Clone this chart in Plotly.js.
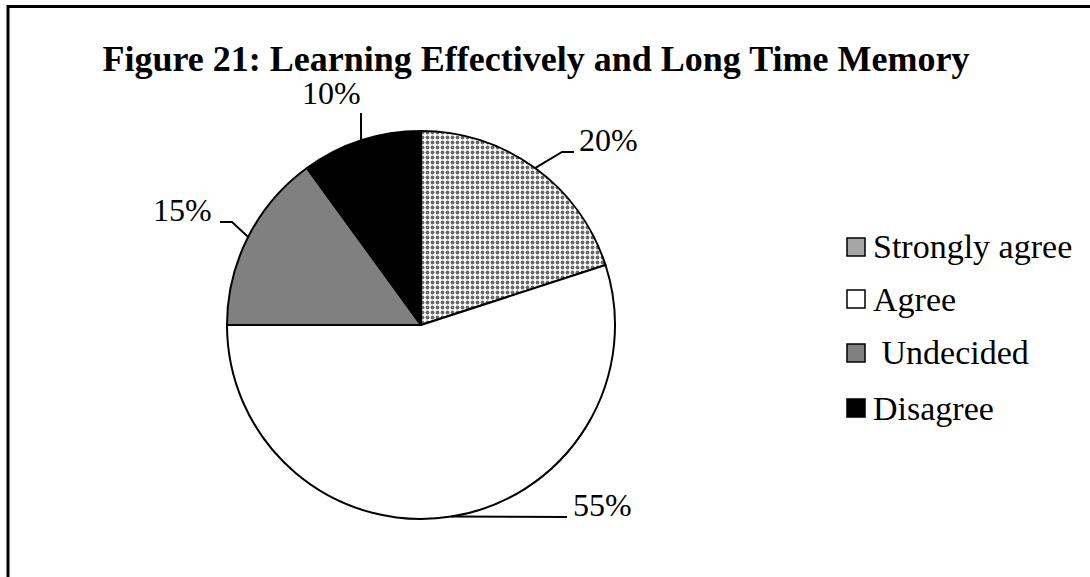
<!DOCTYPE html>
<html>
<head>
<meta charset="utf-8">
<script src="https://cdn.plot.ly/plotly-3.0.1.min.js"></script>
<style>
  html, body { margin: 0; padding: 0; background: #fff; }
  #chart { width: 1090px; height: 577px; }
</style>
</head>
<body>
<div id="chart"></div>
<script>
// Survey responses
const categories = ['Strongly agree', 'Agree', '\u00a0Undecided', 'Disagree'];
const shares = [20, 55, 15, 10];

// Slice fills
const sliceColors = ['#acacac', '#ffffff', '#808080', '#000000'];
const slicePatterns = ['.', '', '', ''];
const swatchColors = ['#a6a6a6', '#ffffff', '#808080', '#000000'];

// Figure geometry (pixels)
const W = 1090, H = 577;
const cx = 421, cy = 325, R = 194;
const SERIF = 'Liberation Serif, Times New Roman, serif';

// Leader-line routing and label placement for each slice, in pixels
const labelLayout = [
  { path: [[562, 152], [574, 152]], text: [577, 140], anchor: 'left' },
  { path: [[567, 517]],             text: [571, 505], anchor: 'left' },
  { path: [[232, 222], [220, 222]], text: [214, 210], anchor: 'right' },
  { path: [[361, 113]],             text: [331, 93],  anchor: 'center' }
];

// Key rows: swatch left edge, swatch size, text left edge, row centres (pixels)
const keyX = 847, keySize = 18, keyTextX = 871;
const keyRows = [247, 299, 353, 408];

const X = px => px / W;
const Y = py => 1 - py / H;

// Mid-angle of each slice, clockwise from 12 o'clock
const total = shares.reduce((a, b) => a + b, 0);
let acc = 0;
const midAngles = shares.map(v => {
  const a = (acc + v / 2) / total * 2 * Math.PI;
  acc += v;
  return a;
});

const shapes = [];
const annotations = [];
midAngles.forEach((a, i) => {
  const ex = cx + R * Math.sin(a), ey = cy - R * Math.cos(a);
  const pts = [[ex, ey]].concat(labelLayout[i].path);
  const d = pts.map((p, k) => (k ? 'L' : 'M') + X(p[0]) + ',' + Y(p[1])).join(' ');
  shapes.push({ type: 'path', xref: 'paper', yref: 'paper', path: d,
                line: { color: '#000', width: 2 } });
  annotations.push({
    xref: 'paper', yref: 'paper',
    x: X(labelLayout[i].text[0]), y: Y(labelLayout[i].text[1]),
    xanchor: labelLayout[i].anchor, yanchor: 'middle',
    text: shares[i] + '%', showarrow: false,
    font: { family: SERIF, size: 32, color: '#000' }
  });
});

// Key: one swatch and one label per category
categories.forEach((name, i) => {
  const yc = keyRows[i];
  shapes.push({ type: 'rect', xref: 'paper', yref: 'paper',
    x0: X(keyX), x1: X(keyX + keySize),
    y0: Y(yc + keySize / 2), y1: Y(yc - keySize / 2),
    fillcolor: swatchColors[i], line: { color: '#000', width: 1.5 } });
  annotations.push({
    xref: 'paper', yref: 'paper',
    x: X(keyTextX), y: Y(yc), xanchor: 'left', yanchor: 'middle',
    text: name, showarrow: false,
    font: { family: SERIF, size: 34, color: '#000' }
  });
});

// Frame lines along the top and left edges
shapes.push({ type: 'line', xref: 'paper', yref: 'paper',
  x0: X(7), y0: Y(6.5), x1: 1, y1: Y(6.5), line: { color: '#000', width: 3 } });
shapes.push({ type: 'line', xref: 'paper', yref: 'paper',
  x0: X(8), y0: Y(5), x1: X(8), y1: 0, line: { color: '#000', width: 3 } });

const trace = {
  type: 'pie',
  labels: categories,
  values: shares,
  sort: false,
  direction: 'clockwise',
  rotation: 0,
  textinfo: 'none',
  hoverinfo: 'skip',
  showlegend: false,
  marker: {
    colors: sliceColors,
    line: { color: '#000', width: 2 },
    pattern: { shape: slicePatterns, fgcolor: '#686868', size: 5, solidity: 0.45 }
  },
  domain: { x: [X(cx - R), X(cx + R)], y: [Y(cy + R), Y(cy - R)] }
};

const layout = {
  width: W, height: H,
  margin: { l: 0, r: 0, t: 0, b: 0 },
  paper_bgcolor: '#fff',
  font: { family: SERIF, color: '#000' },
  title: {
    text: '<b>Figure 21: Learning Effectively and Long Time Memory</b>',
    font: { family: SERIF, size: 36, color: '#000' },
    x: X(536), xanchor: 'center', xref: 'paper',
    y: Y(58), yanchor: 'middle', yref: 'container'
  },
  showlegend: false,
  shapes: shapes,
  annotations: annotations
};

Plotly.newPlot('chart', [trace], layout, { displayModeBar: false, staticPlot: true });
</script>
</body>
</html>
